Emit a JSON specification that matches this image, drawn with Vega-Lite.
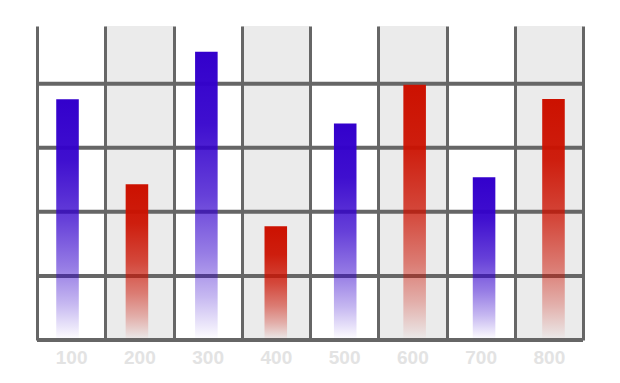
{
  "$schema": "https://vega.github.io/schema/vega-lite/v6.json",
  "width": 546,
  "height": 314,
  "autosize": "none",
  "padding": {"left": 37, "top": 26, "right": 37, "bottom": 43},
  "background": "white",
  "config": {"view": {"stroke": null}},
  "datasets": {
    "bars": [
      {"x": "100", "v": 75.1, "g": "blue"},
      {"x": "200", "v": 48.6, "g": "red"},
      {"x": "300", "v": 90.0, "g": "blue"},
      {"x": "400", "v": 35.5, "g": "red"},
      {"x": "500", "v": 67.6, "g": "blue"},
      {"x": "600", "v": 79.7, "g": "red"},
      {"x": "700", "v": 50.8, "g": "blue"},
      {"x": "800", "v": 75.2, "g": "red"}
    ],
    "grid": [{"y": 0}, {"y": 20}, {"y": 40}, {"y": 60}, {"y": 80}]
  },
  "resolve": {"scale": {"x": "independent"}, "axis": {"x": "independent"}},
  "layer": [
    {
      "data": {"name": "bars"},
      "transform": [{"filter": "datum.g === 'red'"}],
      "mark": {"type": "rect", "color": "#ebebeb"},
      "encoding": {
        "x": {
          "field": "x", "type": "nominal",
          "scale": {"domain": ["100", "200", "300", "400", "500", "600", "700", "800"], "paddingInner": 0, "paddingOuter": 0},
          "axis": {
            "title": null, "grid": true, "tickBand": "extent", "gridColor": "#666666", "gridWidth": 3,
            "ticks": false, "domain": false, "labelAngle": 0,
            "labelFont": "Liberation Sans", "labelFontWeight": "bold", "labelFontSize": 19,
            "labelColor": "#e3e3e3", "labelPadding": 8, "zindex": 1
          }
        }
      }
    },
    {
      "data": {"name": "grid"},
      "mark": {"type": "rule", "color": "#666666", "strokeWidth": 4},
      "encoding": {
        "y": {"field": "y", "type": "quantitative", "scale": {"domain": [0, 98], "nice": false, "zero": true}, "axis": null}
      }
    },
    {
      "data": {"name": "bars"},
      "transform": [{"filter": "datum.g === 'blue'"}],
      "mark": {
        "type": "bar",
        "color": {"gradient": "linear", "x1": 0, "y1": 0, "x2": 0, "y2": 1,
          "stops": [
            {"offset": 0, "color": "rgba(51,0,204,1)"},
            {"offset": 0.25, "color": "rgba(51,0,204,0.94)"},
            {"offset": 0.5, "color": "rgba(51,0,204,0.75)"},
            {"offset": 0.7, "color": "rgba(51,0,204,0.51)"},
            {"offset": 0.85, "color": "rgba(51,0,204,0.28)"},
            {"offset": 1, "color": "rgba(51,0,204,0)"}
          ]}
      },
      "encoding": {
        "x": {"field": "x", "type": "nominal",
          "scale": {"domain": ["100", "200", "300", "400", "500", "600", "700", "800"], "range": [-4.2, 551.2], "paddingInner": 0.675, "paddingOuter": 0.3375},
          "axis": null},
        "y": {"field": "v", "type": "quantitative"}
      }
    },
    {
      "data": {"name": "bars"},
      "transform": [{"filter": "datum.g === 'red'"}],
      "mark": {
        "type": "bar",
        "color": {"gradient": "linear", "x1": 0, "y1": 0, "x2": 0, "y2": 1,
          "stops": [
            {"offset": 0, "color": "rgba(204,17,0,1)"},
            {"offset": 0.25, "color": "rgba(204,17,0,0.94)"},
            {"offset": 0.5, "color": "rgba(204,17,0,0.75)"},
            {"offset": 0.7, "color": "rgba(204,17,0,0.51)"},
            {"offset": 0.85, "color": "rgba(204,17,0,0.28)"},
            {"offset": 1, "color": "rgba(204,17,0,0)"}
          ]}
      },
      "encoding": {
        "x": {"field": "x", "type": "nominal",
          "scale": {"domain": ["100", "200", "300", "400", "500", "600", "700", "800"], "range": [-4.2, 551.2], "paddingInner": 0.675, "paddingOuter": 0.3375},
          "axis": null},
        "y": {"field": "v", "type": "quantitative"}
      }
    }
  ]
}
